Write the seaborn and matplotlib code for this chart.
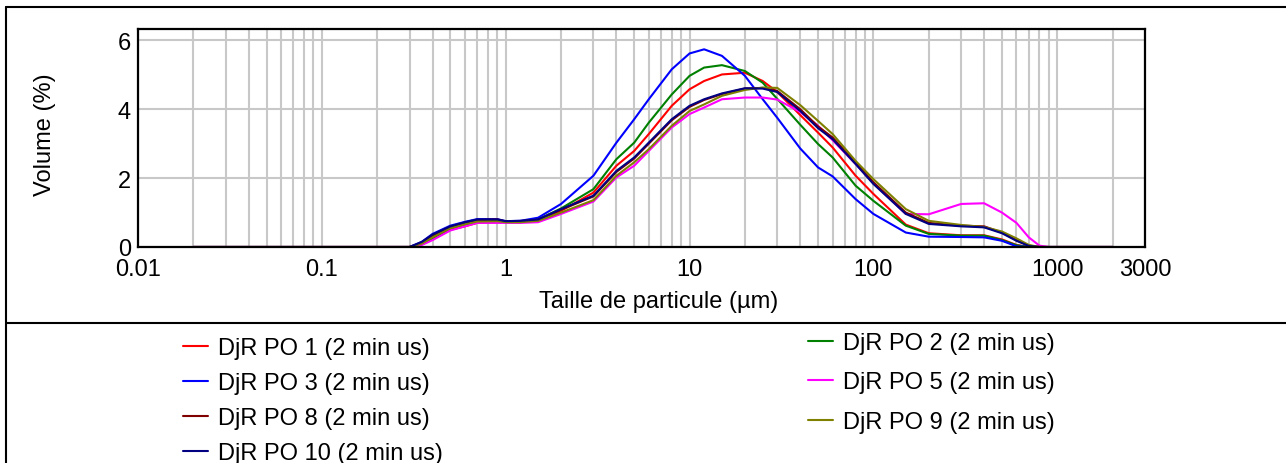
import matplotlib
matplotlib.use("Agg")
import matplotlib.pyplot as plt
from matplotlib.lines import Line2D
from matplotlib.ticker import LogLocator, NullFormatter
import numpy as np
import pandas as pd
import seaborn as sns

# --------------------------------------------------------------------------- #
# Data
# --------------------------------------------------------------------------- #
sizes_um = [0.02, 0.1, 0.3, 0.35, 0.4, 0.5, 0.6, 0.7, 0.9, 1.0,
            1.2, 1.5, 2, 3, 4, 5, 6, 8, 10, 12,
            15, 20, 25, 30, 40, 50, 60, 80, 100, 150,
            200, 300, 400, 500, 600, 700, 800, 900, 1000, 2000]

po1 = [0, 0, 0, 0.08, 0.22, 0.50, 0.60, 0.70, 0.72, 0.72,
       0.72, 0.78, 1.05, 1.58, 2.36, 2.79, 3.28, 4.10, 4.58, 4.82,
       5.01, 5.06, 4.82, 4.50, 3.83, 3.32, 2.89, 2.07, 1.54, 0.65,
       0.40, 0.34, 0.34, 0.22, 0.06, 0, 0, 0, 0, 0]
po2 = [0, 0, 0, 0.10, 0.25, 0.55, 0.66, 0.74, 0.76, 0.72,
       0.73, 0.80, 1.12, 1.68, 2.55, 3.03, 3.61, 4.43, 4.97, 5.21,
       5.28, 5.11, 4.77, 4.30, 3.55, 2.99, 2.60, 1.78, 1.34, 0.62,
       0.38, 0.33, 0.33, 0.20, 0.05, 0, 0, 0, 0, 0]
po3 = [0, 0, 0, 0.15, 0.38, 0.62, 0.73, 0.81, 0.81, 0.75,
       0.76, 0.85, 1.25, 2.07, 3.03, 3.71, 4.29, 5.16, 5.62, 5.74,
       5.55, 4.97, 4.29, 3.75, 2.86, 2.31, 2.05, 1.39, 0.96, 0.42,
       0.30, 0.29, 0.28, 0.18, 0.02, 0, 0, 0, 0, 0]
po5 = [0, 0, 0, 0.06, 0.20, 0.48, 0.60, 0.70, 0.70, 0.70,
       0.70, 0.72, 0.96, 1.32, 2.02, 2.36, 2.79, 3.47, 3.86, 4.05,
       4.29, 4.34, 4.34, 4.28, 3.92, 3.52, 3.10, 2.41, 1.85, 0.96,
       0.95, 1.25, 1.27, 1.00, 0.70, 0.28, 0.04, 0, 0, 0]
po8 = [0, 0, 0, 0.12, 0.32, 0.58, 0.70, 0.78, 0.80, 0.74,
       0.75, 0.79, 1.08, 1.47, 2.18, 2.57, 3.00, 3.68, 4.07, 4.27,
       4.44, 4.60, 4.62, 4.53, 4.00, 3.50, 3.18, 2.45, 1.88, 1.00,
       0.70, 0.62, 0.60, 0.42, 0.20, 0.04, 0, 0, 0, 0]
po9 = [0, 0, 0, 0.10, 0.28, 0.55, 0.66, 0.74, 0.75, 0.72,
       0.72, 0.76, 1.00, 1.36, 2.07, 2.46, 2.84, 3.52, 3.95, 4.14,
       4.39, 4.56, 4.63, 4.62, 4.12, 3.66, 3.28, 2.50, 1.97, 1.10,
       0.76, 0.64, 0.58, 0.45, 0.25, 0.06, 0, 0, 0, 0]
po10 = [0, 0, 0, 0.15, 0.36, 0.60, 0.72, 0.80, 0.80, 0.75,
        0.76, 0.80, 1.10, 1.49, 2.21, 2.60, 3.03, 3.71, 4.10, 4.29,
        4.46, 4.61, 4.60, 4.50, 3.95, 3.45, 3.13, 2.41, 1.83, 0.96,
        0.67, 0.60, 0.57, 0.40, 0.18, 0.03, 0, 0, 0, 0]

sample_names = ["DjR PO 1 (2 min us)", "DjR PO 2 (2 min us)", "DjR PO 3 (2 min us)",
                "DjR PO 5 (2 min us)", "DjR PO 8 (2 min us)", "DjR PO 9 (2 min us)",
                "DjR PO 10 (2 min us)"]
sample_values = [po1, po2, po3, po5, po8, po9, po10]
sample_colors = ["#ff0000", "#008000", "#0000ff", "#ff00ff", "#800000", "#808000", "#000080"]

x_ticks = [0.01, 0.1, 1, 10, 100, 1000, 3000]
x_tick_labels = ["0.01", "0.1", "1", "10", "100", "1000", "3000"]
y_ticks = [0, 2, 4, 6]

# --------------------------------------------------------------------------- #
# Plot
# --------------------------------------------------------------------------- #
sns.set_style("white")
plt.rcParams["font.family"] = ["Liberation Sans", "DejaVu Sans"]
plt.rcParams["text.color"] = "black"
plt.rcParams["axes.labelcolor"] = "black"

df = pd.concat(
    [pd.DataFrame({"size": sizes_um, "volume": vals, "sample": name})
     for name, vals in zip(sample_names, sample_values)],
    ignore_index=True,
)
palette = dict(zip(sample_names, sample_colors))

W, H = 1286, 464
fig = plt.figure(figsize=(W / 100, H / 100), dpi=100)
ax = fig.add_axes([138 / W, 1 - 248 / H, (1145 - 138) / W, (248 - 30) / H])

sns.lineplot(data=df, x="size", y="volume", hue="sample", hue_order=sample_names,
             palette=palette, estimator=None, sort=False, linewidth=1.5,
             legend=False, ax=ax)

ax.set_xscale("log")
ax.set_xlim(0.01, 3000)
ax.set_ylim(0, 6.33)
ax.set_xticks(x_ticks)
ax.set_xticklabels(x_tick_labels)
ax.xaxis.set_minor_locator(LogLocator(base=10, subs=np.arange(2, 10)))
ax.xaxis.set_minor_formatter(NullFormatter())
ax.set_yticks(y_ticks)
ax.tick_params(which="both", length=0, labelsize=17, colors="black",
               labelcolor="black")
ax.tick_params(axis="x", pad=8)
ax.tick_params(axis="y", pad=5)
ax.grid(which="both", axis="both", color="#c8c8c8", linewidth=1.5)
ax.set_axisbelow(True)
for side in ax.spines.values():
    side.set_color("black")
    side.set_linewidth(1.6)

ax.set_xlabel("Taille de particule (µm)", fontsize=17, color="black")
ax.set_ylabel("Volume (%)", fontsize=17, color="black")
ax.xaxis.set_label_coords((659 - 138) / 1007, (248 - 291) / 218)
ax.yaxis.set_label_coords((56 - 138) / 1007, (248 - 135) / 218)

# outer frame and separator line, as in the source software export
frame_kw = dict(color="black", linewidth=1.5, transform=fig.transFigure)
fig.add_artist(Line2D([6 / W, 1], [1 - 8 / H, 1 - 8 / H], **frame_kw))
fig.add_artist(Line2D([6 / W, 6 / W], [0, 1 - 8 / H], **frame_kw))
fig.add_artist(Line2D([6 / W, 1], [1 - 324 / H, 1 - 324 / H], **frame_kw))

# legend in two columns below the chart
handles = [Line2D([], [], color=c, linewidth=1.5) for c in sample_colors]
left_idx = [0, 2, 4, 6]
right_idx = [1, 3, 5]
legend_kw = dict(loc="upper left", frameon=False, fontsize=17, borderpad=0,
                 borderaxespad=0, handlelength=1.05, handletextpad=0.42,
                 labelcolor="black")
fig.legend([handles[i] for i in left_idx], [sample_names[i] for i in left_idx],
           bbox_to_anchor=(183 / W, 1 - 338 / H), labelspacing=0.55, **legend_kw)
fig.legend([handles[i] for i in right_idx], [sample_names[i] for i in right_idx],
           bbox_to_anchor=(808 / W, 1 - 333 / H), labelspacing=0.74, **legend_kw)

fig.savefig("out.png", dpi=100)
plt.close(fig)
